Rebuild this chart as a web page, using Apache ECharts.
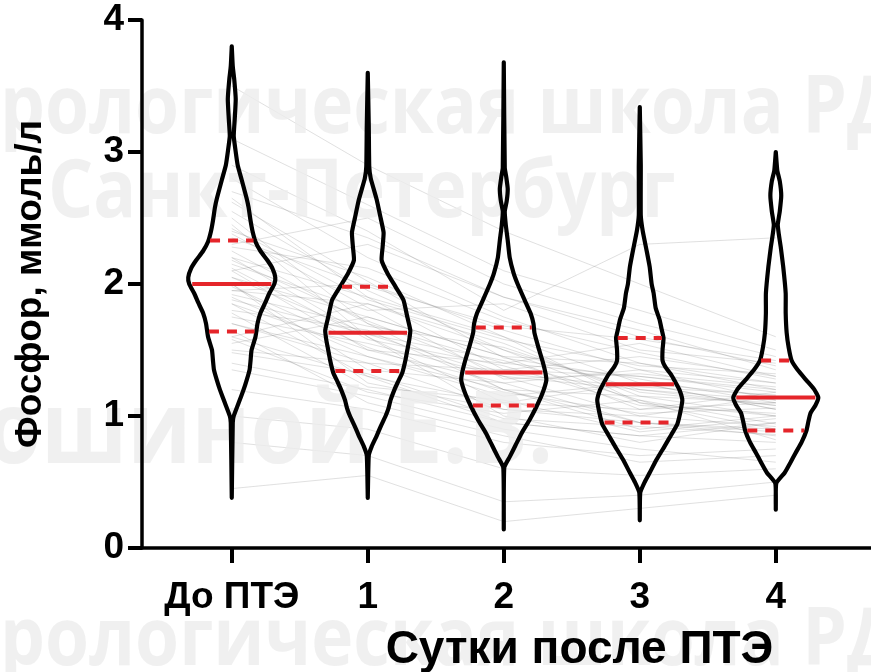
<!DOCTYPE html>
<html>
<head>
<meta charset="utf-8">
<script src="https://cdn.jsdelivr.net/npm/echarts@6/dist/echarts.min.js"></script>
<style>
  html, body { margin: 0; padding: 0; background: #ffffff; }
  #chart { width: 871px; height: 672px; }
</style>
</head>
<body>
<div id="chart"></div>
<script>
// Groups on the x axis
const categories = ['До ПТЭ', '1', '2', '3', '4'];
const yTicks = [0, 1, 2, 3, 4];

// Summary lines per group (ммоль/л)
const medians   = [2.00, 1.63, 1.33, 1.24, 1.14];
const quartile1 = [1.64, 1.34, 1.08, 0.95, 0.89];
const quartile3 = [2.33, 1.98, 1.67, 1.59, 1.42];

// Kernel density profiles: [value, relative density], bottom to top
const densityPre = [
  [0.38, 0], [0.95, 1], [1.00, 2], [1.10, 7], [1.20, 12], [1.27, 15], [1.35, 18],
  [1.42, 19], [1.50, 20], [1.60, 24], [1.70, 26], [1.78, 29], [1.86, 34], [1.93, 38],
  [2.00, 43], [2.05, 44], [2.12, 41], [2.18, 36], [2.25, 29], [2.32, 24], [2.40, 21],
  [2.48, 19], [2.58, 17], [2.65, 15], [2.79, 10], [2.90, 6], [3.00, 4], [3.12, 2],
  [3.25, 3], [3.40, 4], [3.55, 2.5], [3.65, 1], [3.80, 0]
];
const densityDay1 = [
  [0.38, 0], [0.70, 1], [0.77, 4], [0.85, 9], [0.92, 13], [1.00, 18], [1.06, 21],
  [1.12, 23], [1.20, 27], [1.25, 30], [1.33, 35], [1.42, 38], [1.50, 40], [1.58, 42],
  [1.65, 43], [1.75, 40], [1.88, 36], [1.98, 28], [2.08, 20], [2.18, 14], [2.28, 15],
  [2.39, 16], [2.50, 13], [2.64, 9], [2.80, 3], [2.89, 1.5], [3.20, 1], [3.60, 0]
];
const densityDay2 = [
  [0.14, 0], [0.61, 0.5], [0.69, 6], [0.78, 12], [0.87, 18], [0.97, 26], [1.07, 33],
  [1.17, 39], [1.27, 43], [1.33, 42], [1.42, 39], [1.52, 35], [1.63, 31], [1.70, 30],
  [1.78, 27], [1.88, 21], [2.00, 14], [2.08, 10], [2.20, 6], [2.33, 4], [2.45, 2],
  [2.55, 1], [2.63, 3], [2.72, 4], [2.81, 2.5], [2.88, 1], [3.68, 0]
];
const densityDay3 = [
  [0.21, 0], [0.42, 0.5], [0.50, 5], [0.57, 10], [0.67, 17], [0.77, 25], [0.86, 32],
  [0.94, 38], [1.03, 41], [1.12, 43], [1.20, 40], [1.27, 35], [1.31, 32], [1.37, 26],
  [1.42, 23], [1.50, 23], [1.59, 24], [1.66, 22], [1.73, 20], [1.82, 16], [1.93, 14],
  [2.00, 12], [2.13, 10], [2.25, 7], [2.40, 3], [2.52, 1], [2.90, 1], [3.34, 0]
];
const densityDay4 = [
  [0.29, 0], [0.49, 0.5], [0.57, 9], [0.65, 15], [0.72, 20], [0.80, 26], [0.89, 31],
  [0.96, 33], [1.02, 35], [1.08, 40], [1.14, 43], [1.20, 39], [1.27, 31], [1.35, 22],
  [1.42, 16], [1.52, 13], [1.63, 11], [1.78, 10], [1.93, 10], [2.13, 7.5], [2.28, 5],
  [2.38, 3], [2.45, 2], [2.55, 4], [2.67, 5.5], [2.78, 4], [2.86, 1.5], [3.00, 0]
];

// Individual patients: value before ПТЭ and on days 1–4
const patients = [
  [2.05, 1.62, 1.30, 1.20, 1.12], [1.70, 1.40, 1.05, 0.95, 0.90], [2.35, 1.98, 1.68, 1.58, 1.42],
  [1.60, 1.30, 1.10, 1.25, 1.05], [2.80, 2.20, 1.75, 1.40, 1.20], [1.95, 1.85, 1.55, 1.15, 1.00],
  [2.50, 1.70, 1.20, 0.95, 0.85], [1.20, 1.05, 0.80, 0.70, 0.75], [2.10, 2.30, 1.90, 1.65, 1.35],
  [1.85, 1.50, 1.40, 1.30, 1.18], [2.20, 1.60, 1.00, 0.80, 0.95], [1.55, 1.75, 1.45, 1.05, 1.10],
  [3.10, 2.60, 2.10, 1.80, 1.50], [1.00, 0.90, 0.60, 0.55, 0.60], [2.00, 1.35, 1.25, 1.35, 1.25],
  [2.40, 2.05, 1.60, 1.10, 0.90], [1.75, 1.55, 1.30, 1.00, 1.15], [2.65, 1.90, 1.35, 1.45, 1.30],
  [1.40, 1.20, 0.95, 0.85, 0.80], [2.15, 1.80, 1.85, 1.50, 1.40], [1.90, 1.45, 1.15, 1.25, 1.05],
  [2.30, 2.50, 2.00, 1.70, 1.45], [1.65, 1.10, 0.85, 0.65, 0.70], [2.55, 1.95, 1.50, 1.20, 1.08],
  [1.80, 1.65, 1.20, 0.90, 1.00], [2.00, 1.25, 1.05, 1.00, 0.92], [3.50, 2.90, 2.40, 2.00, 1.60],
  [1.50, 1.40, 1.35, 1.30, 1.20], [2.25, 1.70, 1.40, 1.55, 1.30], [0.80, 0.70, 0.35, 0.40, 0.50],
  [1.95, 2.00, 1.65, 1.35, 1.12], [2.10, 1.50, 1.25, 0.95, 0.88], [1.60, 1.85, 1.50, 1.10, 1.00],
  [2.45, 1.60, 1.10, 1.05, 1.18], [2.70, 2.35, 1.90, 1.60, 1.38], [1.35, 1.15, 0.90, 0.75, 0.65],
  [2.05, 1.75, 1.45, 1.40, 1.25], [1.85, 1.30, 0.95, 0.85, 0.95], [2.20, 1.90, 1.60, 1.25, 1.15],
  [1.70, 1.45, 1.20, 1.15, 1.10], [2.90, 2.40, 1.80, 2.30, 2.35], [0.45, 0.55, 0.20, 0.30, 0.40],
  [2.12, 1.58, 1.38, 1.08, 1.02], [1.78, 1.22, 1.12, 0.88, 0.98], [2.38, 1.82, 1.28, 1.32, 1.22],
  [1.92, 1.68, 1.52, 1.18, 1.08], [1.58, 1.18, 1.02, 1.12, 0.82], [2.28, 2.12, 1.72, 1.48, 1.28],
  [1.98, 1.52, 1.18, 1.02, 1.06], [2.18, 1.72, 1.32, 1.22, 1.16], [1.48, 1.32, 0.98, 0.92, 0.86],
  [2.42, 1.88, 1.58, 1.38, 1.32], [1.88, 1.62, 1.42, 1.12, 0.94], [2.62, 2.02, 1.44, 1.28, 1.10]
];

const profiles = [densityPre, densityDay1, densityDay2, densityDay3, densityDay4];
const maxDensity = Math.max(...profiles.map(p => Math.max(...p.map(d => d[1]))));
const HALF_WIDTH = 0.32;     // widest violin half-width, in category units
const RED = '#e5252a';
const FONT = '"Liberation Sans", Arial, sans-serif';

function widthAt(profile, v) {
  for (let k = 1; k < profile.length; k++) {
    const [v0, d0] = profile[k - 1];
    const [v1, d1] = profile[k];
    if (v >= v0 && v <= v1) {
      const t = (v - v0) / (v1 - v0);
      return (d0 + t * (d1 - d0)) / maxDensity * HALF_WIDTH;
    }
  }
  return 0;
}

function renderViolin(params, api) {
  const i = api.value(0);
  const prof = profiles[i];
  const right = prof.map(([v, d]) => api.coord([i + d / maxDensity * HALF_WIDTH, v]));
  const left = prof.slice().reverse().map(([v, d]) => api.coord([i - d / maxDensity * HALF_WIDTH, v]));
  return {
    type: 'polygon',
    shape: { points: right.concat(left), smooth: 0.15 },
    style: { fill: 'none', stroke: '#000', lineWidth: 4.2, lineJoin: 'round' }
  };
}

function renderStat(params, api) {
  const i = api.value(0);
  const v = api.value(1);
  const dashed = api.value(2) === 1;
  const w = widthAt(profiles[i], v) * 0.93;
  const p0 = api.coord([i - w, v]);
  const p1 = api.coord([i + w, v]);
  return {
    type: 'line',
    shape: { x1: p0[0], y1: p0[1], x2: p1[0], y2: p1[1] },
    style: { stroke: RED, lineWidth: 4, lineDash: dashed ? [10, 8] : null }
  };
}

const statData = [];
categories.forEach((c, i) => {
  statData.push([i, medians[i], 0]);
  statData.push([i, quartile1[i], 1]);
  statData.push([i, quartile3[i], 1]);
});

const patientSeries = patients.map(p => ({
  type: 'line',
  data: p.map((v, i) => [i, v]),
  symbol: 'none',
  silent: true,
  animation: false,
  z: 1,
  lineStyle: { color: 'rgba(120,120,120,0.23)', width: 1 }
}));

// Background watermark lettering
const watermarkFill = 'rgba(236,236,236,0.8)';
const watermarkFont = 'bold 80px "Open Sans", sans-serif';
function watermark(text, x, y, font) {
  return {
    type: 'text', x: x, y: y, z: 2, silent: true, scaleX: 0.89,
    style: { text: text, font: font || watermarkFont, fill: watermarkFill, verticalAlign: 'middle' }
  };
}

const chart = echarts.init(document.getElementById('chart'), null, { renderer: 'canvas' });
chart.setOption({
  animation: false,
  backgroundColor: '#ffffff',
  grid: { left: 142, right: 0, top: 20, bottom: 124, containLabel: false, outerBoundsMode: 'none' },
  graphic: [
    watermark('рологическая школа РД', 0, 110),
    watermark('Санкт-Петербург', 48, 194),
    watermark('ошиной Е.В.', -14, 435, 'bold 100px "Open Sans", sans-serif'),
    watermark('рологическая школа РД', 0, 642)
  ],
  xAxis: {
    type: 'value',
    min: -0.66,
    max: 4.70,
    z: 20,
    splitLine: { show: false },
    axisLine: { show: true, onZero: false, lineStyle: { color: '#000', width: 3.5 } },
    axisTick: { show: true, customValues: [0, 1, 2, 3, 4], length: 15, inside: false,
      lineStyle: { color: '#000', width: 4 } },
    axisLabel: {
      customValues: [0, 1, 2, 3, 4],
      formatter: v => categories[Math.round(v)],
      color: '#000', fontFamily: FONT, fontWeight: 'bold', fontSize: 37, margin: 31
    },
    name: 'Сутки после ПТЭ',
    nameLocation: 'middle',
    nameGap: 79,
    nameTextStyle: { color: '#000', fontFamily: FONT, fontWeight: 'bold', fontSize: 46, padding: [0, 0, 0, 146] }
  },
  yAxis: {
    type: 'value',
    min: 0,
    max: 4,
    interval: 1,
    z: 20,
    splitLine: { show: false },
    axisLine: { show: true, onZero: false, lineStyle: { color: '#000', width: 3.5 } },
    axisTick: { show: true, length: 14, lineStyle: { color: '#000', width: 4 } },
    axisLabel: {
      customValues: yTicks,
      color: '#000', fontFamily: FONT, fontWeight: 'bold', fontSize: 37, margin: 18
    },
    name: 'Фосфор, ммоль/л',
    nameLocation: 'middle',
    nameGap: 93,
    nameTextStyle: { color: '#000', fontFamily: FONT, fontWeight: 'bold', fontSize: 37 }
  },
  series: [
    ...patientSeries,
    {
      type: 'custom',
      z: 10,
      silent: true,
      clip: false,
      renderItem: renderViolin,
      data: categories.map((c, i) => [i]),
      encode: { x: 0 }
    },
    {
      type: 'custom',
      z: 11,
      silent: true,
      clip: false,
      renderItem: renderStat,
      data: statData,
      encode: { x: 0, y: 1 }
    }
  ]
});
</script>
</body>
</html>
